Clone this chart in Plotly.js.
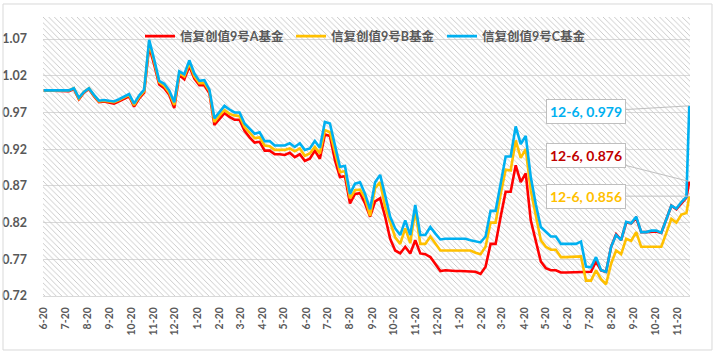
<!DOCTYPE html>
<html>
<head>
<meta charset="utf-8">
<script src="https://cdn.plot.ly/plotly-3.0.1.min.js"></script>
<style>html,body{margin:0;padding:0;background:#fff;}#chart{width:717px;height:355px;}</style>
</head>
<body>
<div id="chart"></div>
<script>
const dates = [
"2019-06-20","2019-06-27","2019-07-04","2019-07-11","2019-07-18","2019-07-25","2019-08-01","2019-08-08","2019-08-15","2019-08-22","2019-08-29","2019-09-05","2019-09-12","2019-09-19","2019-09-26","2019-10-03","2019-10-10","2019-10-17","2019-10-24","2019-10-31","2019-11-07","2019-11-14","2019-11-21","2019-11-28","2019-12-05","2019-12-12","2019-12-19","2019-12-26",
"2020-01-02","2020-01-09","2020-01-16","2020-01-23","2020-01-30","2020-02-06","2020-02-13","2020-02-20","2020-02-27","2020-03-05","2020-03-12","2020-03-19","2020-03-26","2020-04-02","2020-04-09","2020-04-16","2020-04-23","2020-04-30","2020-05-07","2020-05-14","2020-05-21","2020-05-28","2020-06-04","2020-06-11","2020-06-18","2020-06-25","2020-07-02","2020-07-09","2020-07-16","2020-07-23","2020-07-30","2020-08-06","2020-08-13","2020-08-20","2020-08-27","2020-09-03","2020-09-10","2020-09-17","2020-09-24","2020-10-01","2020-10-08","2020-10-15","2020-10-22","2020-10-29","2020-11-05","2020-11-12","2020-11-19","2020-11-26","2020-12-03","2020-12-10","2020-12-17","2020-12-24","2020-12-31",
"2021-01-07","2021-01-14","2021-01-21","2021-01-28","2021-02-04","2021-02-11","2021-02-18","2021-02-25","2021-03-04","2021-03-11","2021-03-18","2021-03-25","2021-04-01","2021-04-08","2021-04-15","2021-04-22","2021-04-29","2021-05-06","2021-05-13","2021-05-20","2021-05-27","2021-06-03","2021-06-10","2021-06-17","2021-06-24","2021-07-01","2021-07-08","2021-07-15","2021-07-22","2021-07-29","2021-08-05","2021-08-12","2021-08-19","2021-08-26","2021-09-02","2021-09-09","2021-09-16","2021-09-23","2021-09-30","2021-10-07","2021-10-14","2021-10-21","2021-10-28","2021-11-04","2021-11-11","2021-11-18","2021-11-25","2021-12-02","2021-12-06"
];

const fundA = [
1.000,1.000,1.000,1.000,1.000,0.999,
1.002,0.988,0.997,1.002,0.992,
0.984,0.985,0.983,0.982,0.985,
0.988,0.992,0.978,0.989,0.997,
1.060,1.035,1.008,1.003,0.994,
0.976,1.021,1.015,1.033,1.016,
1.007,1.007,0.996,0.953,0.961,
0.969,0.964,0.960,0.960,0.945,
0.936,0.929,0.930,0.918,0.918,
0.913,0.913,0.912,0.915,0.909,
0.913,0.904,0.907,0.918,0.907,
0.940,0.938,0.905,0.882,0.883,
0.846,0.859,0.860,0.846,0.828,
0.849,0.853,0.828,0.798,0.782,
0.778,0.787,0.778,0.796,0.778,
0.777,0.773,0.764,0.754,0.755,
0.754,0.754,0.754,0.754,0.753,
0.753,0.750,0.760,0.791,0.791,
0.828,0.862,0.862,0.898,0.875,
0.887,0.823,0.795,0.767,0.758,
0.755,0.755,0.752,0.752,0.752,
0.752,0.752,0.752,0.753,0.767,
0.755,0.753,0.787,0.804,0.796,
0.820,0.819,0.826,0.807,0.807,
0.808,0.808,0.806,0.825,0.843,
0.838,0.846,0.854,0.876
];

const fundB = [
1.000,1.000,1.000,1.000,1.000,1.000,
1.003,0.989,0.998,1.003,0.993,
0.985,0.986,0.985,0.984,0.987,
0.990,0.994,0.980,0.991,0.999,
1.065,1.039,1.011,1.006,0.997,
0.980,1.024,1.019,1.037,1.019,
1.010,1.010,0.999,0.957,0.966,
0.973,0.968,0.966,0.965,0.950,
0.942,0.935,0.936,0.925,0.924,
0.919,0.919,0.919,0.921,0.917,
0.921,0.911,0.914,0.923,0.914,
0.946,0.943,0.915,0.889,0.890,
0.853,0.864,0.865,0.853,0.829,
0.867,0.875,0.841,0.819,0.800,
0.791,0.812,0.792,0.837,0.791,
0.791,0.801,0.791,0.782,0.782,
0.782,0.782,0.782,0.782,0.782,
0.779,0.777,0.787,0.820,0.820,
0.859,0.892,0.891,0.932,0.908,
0.920,0.864,0.830,0.796,0.787,
0.783,0.783,0.773,0.773,0.773,
0.774,0.774,0.741,0.741,0.755,
0.743,0.736,0.764,0.782,0.777,
0.798,0.795,0.807,0.787,0.787,
0.787,0.787,0.787,0.806,0.825,
0.820,0.831,0.833,0.856
];

const fundC = [
1.000,1.000,1.000,1.000,1.000,1.000,
1.003,0.990,0.998,1.003,0.994,
0.986,0.987,0.986,0.985,0.988,
0.991,0.995,0.982,0.993,1.001,
1.069,1.042,1.013,1.009,1.000,
0.984,1.026,1.022,1.041,1.023,
1.013,1.014,1.001,0.962,0.971,
0.979,0.974,0.970,0.970,0.955,
0.948,0.941,0.943,0.931,0.931,
0.925,0.925,0.925,0.928,0.923,
0.928,0.919,0.921,0.931,0.922,
0.957,0.955,0.927,0.896,0.897,
0.859,0.873,0.875,0.859,0.838,
0.875,0.885,0.857,0.828,0.812,
0.803,0.823,0.803,0.844,0.803,
0.803,0.814,0.805,0.797,0.798,
0.798,0.798,0.798,0.798,0.796,
0.795,0.793,0.801,0.836,0.836,
0.873,0.910,0.910,0.951,0.927,
0.938,0.882,0.845,0.814,0.807,
0.801,0.801,0.791,0.791,0.791,
0.791,0.794,0.760,0.759,0.773,
0.755,0.753,0.787,0.803,0.796,
0.821,0.819,0.828,0.807,0.807,
0.809,0.809,0.806,0.825,0.843,
0.839,0.848,0.855,0.979
];

const seriesNames = ['信复创值9号A基金','信复创值9号B基金','信复创值9号C基金'];
const seriesColors = ['#FF0000','#FFC000','#00B0F0'];
const labelColors = ['#C00000','#FFC000','#00B0F0'];
const lastLabel = '12-6';

const xRange = ['2019-06-19', '2021-12-07'];
const yRange = [0.72, 1.10];

const seriesValues = [fundA, fundB, fundC];

// hatched plot-area background (decoration spanning the axis ranges)
const bgTrace = {
  type: 'scatter', mode: 'lines',
  x: [xRange[0], xRange[1], xRange[1], xRange[0], xRange[0]],
  y: [yRange[0], yRange[0], yRange[1], yRange[1], yRange[0]],
  fill: 'toself', fillcolor: 'rgba(0,0,0,0)',
  fillpattern: {shape: '\\', size: 4, solidity: 0.22, fgcolor: '#c4c4c4', bgcolor: 'rgba(255,255,255,0)'},
  line: {width: 0, color: 'rgba(0,0,0,0)'},
  hoverinfo: 'skip', showlegend: false
};

const traces = [bgTrace].concat(seriesValues.map((vals, i) => ({
  type: 'scatter', mode: 'lines', x: dates, y: vals, name: seriesNames[i],
  line: {color: seriesColors[i], width: 2.6}
})));

const n = dates.length - 1;
const offsets = [[-103, -26], [-103, 0], [-103, 6]];
const annotations = [2, 0, 1].map(i => ({
  x: dates[n], y: seriesValues[i][n], xref: 'x', yref: 'y',
  text: lastLabel + ', ' + seriesValues[i][n].toFixed(3),
  showarrow: true, arrowhead: 0, arrowwidth: 1, arrowcolor: '#bfbfbf', standoff: 0,
  ax: offsets[i][0], ay: offsets[i][1],
  bgcolor: '#ffffff', bordercolor: '#bfbfbf', borderwidth: 1, borderpad: 3,
  font: {family: 'Lato, "Liberation Sans", sans-serif', size: 14, color: labelColors[i], weight: 700}
}));

const layout = {
  width: 717, height: 355,
  margin: {l: 43, r: 27, t: 17, b: 59},
  paper_bgcolor: '#ffffff', plot_bgcolor: '#ffffff',
  showlegend: true,
  legend: {
    orientation: 'h', x: 0.5, xanchor: 'center', y: 0.93, yanchor: 'middle',
    bgcolor: 'rgba(0,0,0,0)', entrywidth: 106, entrywidthmode: 'pixels', itemwidth: 30,
    font: {family: 'Lato, "Noto Sans CJK SC", sans-serif', size: 12.5, color: '#595959', weight: 700}
  },
  xaxis: {
    type: 'date', range: xRange,
    tick0: '2019-06-20', dtick: 'M1', tickformat: '%-m-%d', tickangle: -90,
    showgrid: false, zeroline: false, showline: true, linecolor: '#d9d9d9', linewidth: 1,
    ticks: '', ticklabelstandoff: 6,
    tickfont: {family: 'Lato, "Liberation Sans", sans-serif', size: 10.5, color: '#595959', weight: 700}
  },
  yaxis: {
    range: yRange, tick0: 0.72, dtick: 0.05, tickformat: '.2f',
    showgrid: true, gridcolor: '#d9d9d9', gridwidth: 1, zeroline: false, showline: false,
    ticks: '', ticklabelstandoff: 15, layer: 'above traces',
    tickfont: {family: 'Lato, "Liberation Sans", sans-serif', size: 12.5, color: '#595959', weight: 700}
  },
  shapes: [{
    type: 'rect', xref: 'paper', yref: 'paper',
    x0: -0.0618, x1: 1.034, y0: -0.1935, y1: 1.0466,
    line: {color: '#d9d9d9', width: 1}, fillcolor: 'rgba(0,0,0,0)'
  }],
  annotations: annotations
};

Plotly.newPlot('chart', traces, layout, {displayModeBar: false, staticPlot: true});
</script>
</body>
</html>
